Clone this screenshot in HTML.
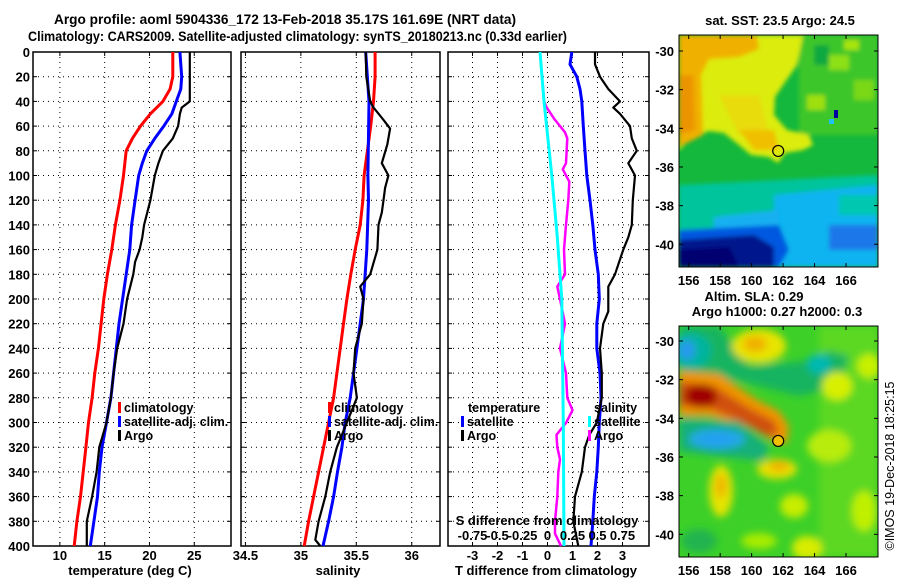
<!DOCTYPE html>
<html><head><meta charset="utf-8"><style>
body{margin:0;background:#fff;width:900px;height:580px;overflow:hidden}
svg{display:block;font-family:"Liberation Sans",Arial,sans-serif;font-weight:bold}
</style></head><body>
<svg id="c" width="900" height="580" viewBox="0 0 900 580" xmlns="http://www.w3.org/2000/svg">
<defs>
<filter id="bl" x="-20%" y="-20%" width="140%" height="140%"><feGaussianBlur stdDeviation="4"/></filter>
<filter id="bl2" x="-20%" y="-20%" width="140%" height="140%"><feGaussianBlur stdDeviation="2"/></filter>
<clipPath id="m1c"><rect x="0" y="0" width="199" height="232"/></clipPath>
<clipPath id="m2c"><rect x="0" y="0" width="199" height="231"/></clipPath>
</defs>
<text x="54" y="24" font-size="14" textLength="462" lengthAdjust="spacingAndGlyphs">Argo profile: aoml 5904336_172 13-Feb-2018 35.17S 161.69E (NRT data)</text>
<text x="28" y="41" font-size="14" textLength="539" lengthAdjust="spacingAndGlyphs">Climatology: CARS2009. Satellite-adjusted climatology: synTS_20180213.nc (0.33d earlier)</text>

<g id="map1" transform="translate(679,35)">
 <g clip-path="url(#m1c)">
  <rect width="199" height="232" fill="#14b83c"/>
  <g filter="url(#bl2)">
  <rect x="120" y="0" width="79" height="100" fill="#3cc62c"/>
  <rect x="150" y="20" width="20" height="15" fill="#8ee014"/>
  <rect x="175" y="45" width="20" height="20" fill="#7ad818"/>
  <rect x="128" y="60" width="18" height="15" fill="#9ee010"/>
  <rect x="165" y="5" width="15" height="10" fill="#a8e410"/>
  <rect x="135" y="10" width="15" height="20" fill="#10a840"/>
  <polygon points="0,0 124,0 118,30 104,50 96,62 95,80 108,95 130,100 134,110 124,115 106,118 99,128 90,122 72,120 60,110 45,98 30,96 10,104 0,116" fill="#dcec08"/>
  <polygon points="0,0 78,0 80,14 60,22 30,24 22,40 24,100 0,112" fill="#f0b000"/>
  <polygon points="0,40 14,40 16,95 0,100" fill="#ec9400"/>
  <polygon points="40,60 80,60 90,100 60,100" fill="#e8dc08"/>
  <polygon points="60,95 95,95 100,115 75,115" fill="#f0c000"/>
  <polygon points="0,150 199,140 199,232 0,232" fill="#00c49c"/>
  <polygon points="95,160 199,150 199,232 95,232" fill="#10b4f0"/>
  <polygon points="35,182 100,175 100,232 35,232" fill="#18b0f0"/>
  <polygon points="0,195 100,190 110,215 100,232 0,232" fill="#0058e0"/>
  <polygon points="0,205 75,200 95,212 95,232 0,232" fill="#00148c"/>
  <polygon points="0,215 50,212 60,232 0,232" fill="#000070"/>
  <rect x="150" y="190" width="49" height="25" fill="#1c78e8"/>
  <rect x="160" y="160" width="39" height="20" fill="#00c8b0"/>
  </g>
  <rect x="155" y="75" width="4" height="8" fill="#0000a0"/>
  <rect x="150" y="84" width="5" height="5" fill="#20c0f0"/>
 </g>
 <rect width="199" height="232" fill="none" stroke="#000" stroke-width="1"/>
</g>

<g id="map2" transform="translate(679,326)">
 <g clip-path="url(#m2c)">
  <rect width="199" height="231" fill="#3cd028"/>
  <g filter="url(#bl)">
   <rect x="140" y="0" width="59" height="231" fill="#5cd820"/>
   <polygon points="0,0 40,0 70,40 130,35 150,25 170,30 160,60 120,70 60,55 0,50" fill="#18b460"/>
   <ellipse cx="12" cy="25" rx="20" ry="18" fill="#00b4a0"/>
   <ellipse cx="8" cy="24" rx="8" ry="10" fill="#2898f0"/>
   <ellipse cx="140" cy="38" rx="12" ry="10" fill="#00b8b0"/>
   <ellipse cx="80" cy="20" rx="27" ry="17" fill="#e8e400"/>
   <ellipse cx="76" cy="18" rx="12" ry="8" fill="#f0b000"/>
   <polygon points="0,45 40,48 80,75 100,85 110,100 108,118 95,115 70,100 30,90 0,90" fill="#f09400"/>
   <polygon points="0,55 35,60 70,82 95,95 100,108 88,110 60,95 30,82 0,80" fill="#d05008"/>
   <ellipse cx="22" cy="70" rx="16" ry="12" fill="#a00000"/>
   <polygon points="0,92 60,95 90,120 85,135 40,130 0,125" fill="#14b078"/>
   <ellipse cx="38" cy="113" rx="28" ry="10" fill="#20a8e8"/>
   <ellipse cx="38" cy="113" rx="18" ry="6" fill="#20a0f0"/>
   <ellipse cx="42" cy="165" rx="12" ry="26" fill="#e4e400"/>
   <ellipse cx="42" cy="160" rx="6" ry="12" fill="#f0b800"/>
   <ellipse cx="98" cy="143" rx="20" ry="10" fill="#e8e000"/>
   <ellipse cx="100" cy="140" rx="10" ry="5" fill="#f0b000"/>
   <ellipse cx="158" cy="60" rx="15" ry="14" fill="#d8f000"/>
   <ellipse cx="190" cy="40" rx="12" ry="12" fill="#c8f000"/>
   <ellipse cx="150" cy="120" rx="22" ry="16" fill="#b8ec08"/>
   <ellipse cx="115" cy="180" rx="14" ry="12" fill="#c8ec00"/>
   <ellipse cx="128" cy="222" rx="15" ry="12" fill="#d8ec00"/>
   <ellipse cx="185" cy="185" rx="12" ry="20" fill="#c0f000"/>
   <ellipse cx="80" cy="215" rx="18" ry="8" fill="#a8ec00"/>
   <ellipse cx="20" cy="215" rx="18" ry="12" fill="#20b450"/>
  </g>
 </g>
 <rect width="199" height="231" fill="none" stroke="#000" stroke-width="1"/>
</g>

<text x="780" y="25" font-size="13" text-anchor="middle">sat. SST: 23.5 Argo: 24.5</text>
<text x="754" y="301" font-size="13" text-anchor="middle">Altim. SLA: 0.29</text>
<text x="777" y="316" font-size="13" text-anchor="middle">Argo h1000: 0.27 h2000: 0.3</text>
<text transform="translate(894,466) rotate(-90)" font-size="12.5" font-weight="normal" text-anchor="middle">©IMOS 19-Dec-2018 18:25:15</text>
</svg>
<script>
// ---- data ----
const depthT = [0,20,30,40,50,60,70,80,100,120,140,160,180,200,220,240,260,280,300,320,340,360,380,400];
const tempClim = [22.6,22.6,22.3,21.5,20.1,19.0,18.1,17.4,17.1,16.7,16.2,15.8,15.3,14.9,14.6,14.3,13.9,13.6,13.2,12.9,12.6,12.3,11.9,11.6];
const depthTs = [0,20,30,40,50,60,70,80,90,100,120,140,160,180,200,220,240,260,280,300,320,340,360,380,400];
const tempSat = [23.4,23.6,23.5,23.0,22.5,21.6,20.6,19.7,19.2,18.8,18.4,18.0,17.8,17.4,17.0,16.6,16.3,16.0,15.7,15.2,14.7,14.4,14.2,13.8,13.4];
const depthTa = [0,40,45,50,60,70,80,90,100,120,140,150,160,170,180,200,220,240,260,280,300,320,340,360,380,400];
const tempArgo = [24.5,24.5,23.6,23.4,23.2,22.6,21.5,21.0,20.6,20.1,19.4,19.2,18.9,18.4,18.2,17.5,17.1,16.4,16.0,15.7,15.2,14.4,14.1,13.6,13.0,13.0];
const depthS = [0,20,40,60,80,100,120,140,160,180,200,220,240,260,280,300,320,340,360,380,400];
const salClim = [35.67,35.67,35.655,35.63,35.60,35.57,35.56,35.535,35.49,35.45,35.415,35.385,35.355,35.325,35.295,35.25,35.205,35.16,35.115,35.07,35.03];
const depthSs = [0,40,100,120,160,200,240,280,300,320,340,360,380,400];
const salSat = [35.585,35.615,35.605,35.61,35.595,35.565,35.505,35.445,35.40,35.37,35.33,35.295,35.25,35.20];
const depthSa = [0,20,40,45,55,62,75,90,100,110,120,130,140,160,180,190,200,220,240,260,280,300,320,340,360,380,395,400];
const salArgo = [35.585,35.59,35.625,35.655,35.745,35.805,35.78,35.73,35.79,35.76,35.745,35.73,35.70,35.69,35.625,35.535,35.565,35.55,35.49,35.475,35.505,35.415,35.325,35.265,35.22,35.16,35.13,35.175];
const depthDs = [0,40,100,150,200,300,400];
const sDiffSat = [-0.075,-0.035,0.043,0.098,0.143,0.158,0.165];
const depthDa = [0,40,45,55,65,70,90,95,105,120,140,160,180,190,200,220,240,260,280,290,300,310,320,330,340,360,380,390,400];
const sDiffArgo = [-0.075,-0.035,-0.008,0.075,0.175,0.198,0.185,0.153,0.218,0.208,0.185,0.165,0.175,0.098,0.125,0.175,0.125,0.185,0.198,0.25,0.188,0.09,0.098,0.125,0.108,0.098,0.075,0.075,0.135];
const depthDt = [0,10,20,30,40,60,80,100,120,140,160,180,200,220,240,260,280,300,320,340,360,380,400];
const tDiffSat = [0.97,0.9,1.17,1.3,1.37,1.43,1.5,1.57,1.7,1.81,1.9,2.03,2.07,1.97,1.97,2.1,2.14,2.07,2.03,1.97,1.87,1.81,1.74];
const depthDta = [0,10,20,30,40,45,50,60,70,80,90,100,120,140,150,160,180,190,200,210,220,240,260,280,300,310,320,340,360,380,400];
const tDiffArgo = [1.9,1.9,2.1,2.43,2.9,2.63,2.9,3.3,3.37,3.57,3.23,3.5,3.41,3.37,3.23,3.03,2.7,2.43,2.43,2.43,2.23,2.1,2.17,2.17,1.97,1.67,1.5,1.37,1.1,1.03,1.23];
const depthTicks = [0,20,40,60,80,100,120,140,160,180,200,220,240,260,280,300,320,340,360,380,400];
const tTicks = [10,15,20,25];
const sTicks = [34.5,35,35.5,36];
const dTicks = [-3,-2,-1,0,1,2,3];
const sdTickLabels = ["-0.75","-0.5","-0.25","0","0.25","0.5","0.75"];
const argoLon = [161.69];
const argoLat = [-35.17];

// ---- drawing ----
const NS = "http://www.w3.org/2000/svg";
const svg = document.getElementById('c');
function mk(tag, attrs, parent){const e=document.createElementNS(NS,tag);for(const k in attrs)e.setAttribute(k,attrs[k]);(parent||svg).appendChild(e);return e;}
const Y0=52, Y1=546;
const yD = d => Y0 + (d/400)*(Y1-Y0);
const panels = [
 {name:'temperature', x0:33, x1:231, lo:7, hi:29.1, ticks:tTicks, labels:tTicks.map(String), title:'temperature (deg C)', tx:130},
 {name:'salinity', x0:241, x1:440, lo:34.46, hi:36.255, ticks:sTicks, labels:sTicks.map(String), title:'salinity', tx:338},
 {name:'difference', x0:448, x1:649, lo:-3.98, hi:4.06, ticks:dTicks, labels:dTicks.map(String), title:'T difference from climatology', tx:546}
];
panels.forEach((p,pi)=>{
 p.x = v => p.x0 + (v-p.lo)/(p.hi-p.lo)*(p.x1-p.x0);
 const g = mk('g',{});
 
 
 p.g = g;
 depthTicks.forEach(d=>{
  if(d>0 && d<400){
   const l = mk('line',{x1:p.x0,x2:p.x1,y1:yD(d),y2:yD(d),stroke:'#000','stroke-width':1,'stroke-dasharray':'1,4'},g);
   
   
  }
  mk('line',{x1:p.x0,x2:p.x0+4,y1:yD(d),y2:yD(d),stroke:'#000'},g);
  mk('line',{x1:p.x1-4,x2:p.x1,y1:yD(d),y2:yD(d),stroke:'#000'},g);
  if(pi===0){
   const t = mk('text',{x:p.x0-3,y:yD(d)+5,'font-size':13,'text-anchor':'end'},g);
   t.textContent=d;
   
   
  }
 });
 p.ticks.forEach((v,i)=>{
  const X=p.x(v);
  const l = mk('line',{x1:X,x2:X,y1:Y0,y2:Y1,stroke:'#000','stroke-width':1,'stroke-dasharray':'1,4'},g);
  
  
  mk('line',{x1:X,x2:X,y1:Y0,y2:Y0+4,stroke:'#000'},g);
  mk('line',{x1:X,x2:X,y1:Y1-4,y2:Y1,stroke:'#000'},g);
  const t = mk('text',{x:X,y:560,'font-size':13,'text-anchor':'middle'},g);
  t.textContent=p.labels[i];
  
  
 });
 const r = mk('rect',{x:p.x0,y:Y0,width:p.x1-p.x0,height:Y1-Y0,fill:'none',stroke:'#000','stroke-width':1.5},g);
 
 
 const tt = mk('text',{x:p.tx,y:575,'font-size':13,'text-anchor':'middle'},g);
 tt.textContent=p.title;
 
 
});
function line(p, depths, vals, color, w, name, scale){
 const s = scale||1;
 const pts = depths.map((d,i)=>p.x(vals[i]*s).toFixed(1)+','+yD(d).toFixed(1)).join(' ');
 const e = mk('polyline',{points:pts,fill:'none',stroke:color,'stroke-width':w,'stroke-linejoin':'round'},p.g);
 
 
}
line(panels[0],depthT,tempClim,'#f00',3,'temp-climatology-line');
line(panels[0],depthTs,tempSat,'#00f',3,'temp-satellite-line');
line(panels[0],depthTa,tempArgo,'#000',2.2,'temp-argo-line');
line(panels[1],depthS,salClim,'#f00',3,'sal-climatology-line');
line(panels[1],depthSs,salSat,'#00f',3,'sal-satellite-line');
line(panels[1],depthSa,salArgo,'#000',2.2,'sal-argo-line');
line(panels[2],depthDa,sDiffArgo,'#f0f',2.5,'sdiff-argo-line',4);
line(panels[2],depthDs,sDiffSat,'#0ff',3,'sdiff-satellite-line',4);
line(panels[2],depthDt,tDiffSat,'#00f',3,'tdiff-satellite-line');
line(panels[2],depthDta,tDiffArgo,'#000',2.2,'tdiff-argo-line');

function legendItem(x,y,color,label,name){
 const g = mk('g',{});
 
 
 if(color) mk('rect',{x:x,y:y-10,width:3,height:11,fill:color},g);
 const t = mk('text',{x:x+6,y:y,'font-size':12.5},g);
 t.textContent=label;
}
legendItem(118,412,'#f00','climatology','legend-entry-climatology');
legendItem(118,426,'#00f','satellite-adj. clim.','legend-entry-satellite');
legendItem(118,440,'#000','Argo','legend-entry-argo');
legendItem(328,412,'#f00','climatology','legend-entry-climatology');
legendItem(328,426,'#00f','satellite-adj. clim.','legend-entry-satellite');
legendItem(328,440,'#000','Argo','legend-entry-argo');
legendItem(462,412,null,'temperature','legend-title-temperature');
legendItem(461,426,'#00f','satellite','legend-entry-t-satellite');
legendItem(461,440,'#000','Argo','legend-entry-t-argo');
legendItem(588,412,null,'salinity','legend-title-salinity');
legendItem(588,426,'#0ff','satellite','legend-entry-s-satellite');
legendItem(588,440,'#f0f','Argo','legend-entry-s-argo');
const st = mk('text',{x:547,y:525,'font-size':13,'text-anchor':'middle'});
st.textContent='S difference from climatology';


dTicks.forEach((v,i)=>{
 const t = mk('text',{x:panels[2].x(v),y:540,'font-size':13,'text-anchor':'middle'});
 t.textContent=sdTickLabels[i];
 
 
});

// maps
const mapLon = v => 679 + 9.7 + (v-156)*15.73;
const maps = [{y:51, name:'sst'},{y:341, name:'sla'}];
const lonTicks=[156,158,160,162,164,166], latTicks=[-30,-32,-34,-36,-38,-40];
maps.forEach((m,mi)=>{
 const latY = v => m.y + (-30-v)*19.33;
 const top = mi===0?35:326, bot = mi===0?267:557;
 lonTicks.forEach(v=>{
  const X=mapLon(v);
  mk('line',{x1:X,x2:X,y1:top,y2:top+4,stroke:'#000'});
  mk('line',{x1:X,x2:X,y1:bot-4,y2:bot,stroke:'#000'});
  const t=mk('text',{x:X,y:bot+18,'font-size':13,'text-anchor':'middle'});
  t.textContent=v;
  
  
 });
 latTicks.forEach(v=>{
  const Y=latY(v);
  mk('line',{x1:679,x2:683,y1:Y,y2:Y,stroke:'#000'});
  mk('line',{x1:874,x2:878,y1:Y,y2:Y,stroke:'#000'});
  const t=mk('text',{x:674,y:Y+5,'font-size':13,'text-anchor':'end'});
  t.textContent=v;
  
  
 });
 argoLon.forEach((lo,i)=>{
  const c=mk('circle',{cx:mapLon(lo),cy:latY(argoLat[i]),r:5.5,fill:mi===1?'#f0c000':'none',stroke:'#000','stroke-width':1.2});
  
  
 });
});
</script>
</body></html>
